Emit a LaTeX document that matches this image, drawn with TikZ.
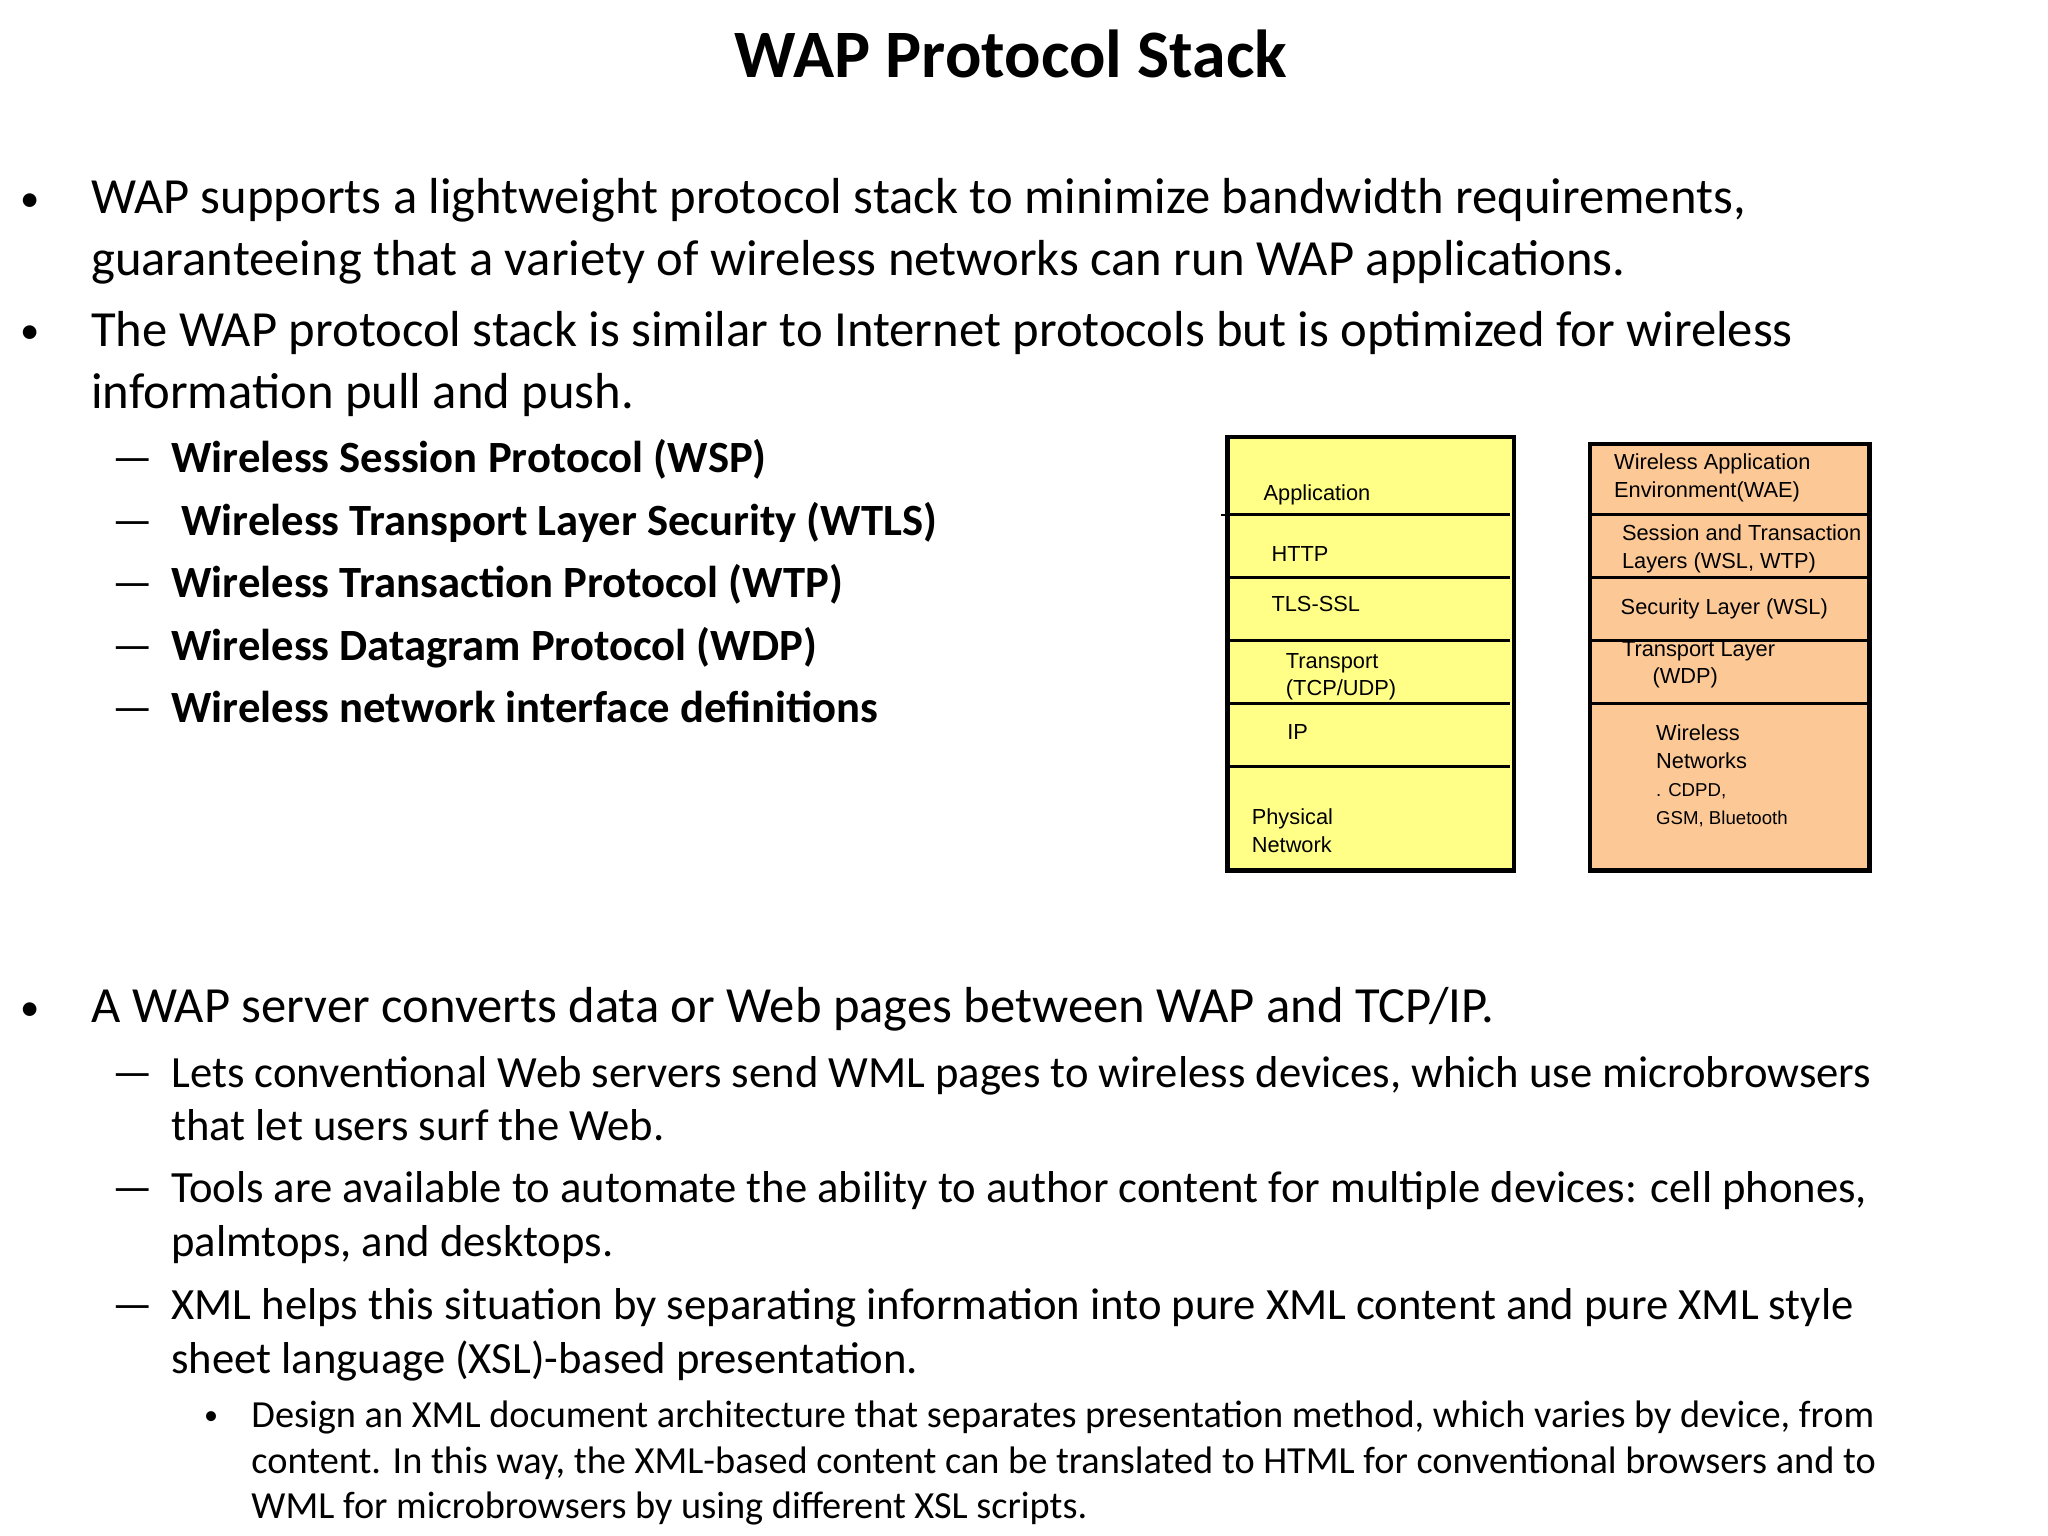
\documentclass[tikz,border=0pt]{standalone}
\usepackage{fontspec}
\setmainfont{Carlito}
\newfontfamily\arial{Liberation Sans}
\definecolor{ylw}{RGB}{255,255,136}
\definecolor{org}{RGB}{252,200,150}
\begin{document}
\begin{tikzpicture}[x=0.013128cm,y=-0.013128cm,
  lone/.style={anchor=base west,inner sep=0pt,font=\fontsize{14.4}{18}\selectfont},
  ltwo/.style={anchor=base west,inner sep=0pt,font=\fontsize{12.7}{16}\selectfont},
  lthree/.style={anchor=base west,inner sep=0pt,font=\fontsize{10.9}{14}\selectfont},
  dtxt/.style={anchor=base west,inner sep=0pt,align=left,font=\arial\fontsize{6.2}{7.9}\selectfont},
  boxl/.style={draw,line width=1.2pt}]
\useasboundingbox (0,0) rectangle (1560,1170);
\node[font=\bfseries\fontsize{19.3}{24}\selectfont,anchor=base] (title) at (770,59) {WAP Protocol Stack};
\node[lone,font=\fontsize{11}{14}\selectfont] (b1) at (15,161) {•};
\node[lone] (t1a) at (69,163) {WAP supports a lightweight protocol stack to minimize bandwidth requirements,};
\node[lone] (t1b) at (69,210) {guaranteeing that a variety of wireless networks can run WAP applications.};
\node[lone,font=\fontsize{11}{14}\selectfont] (b2) at (15,262) {•};
\node[lone] (t2a) at (69,264) {The WAP protocol stack is similar to Internet protocols but is optimized for wireless};
\node[lone] (t2b) at (69,311) {information pull and push.};
\foreach \y/\t [count=\i] in {360/Wireless Session Protocol (WSP),408/{\ Wireless Transport Layer Security (WTLS)},455/Wireless Transaction Protocol (WTP),503/Wireless Datagram Protocol (WDP),550/Wireless network interface definitions}{
  \node[ltwo] (d\i) at (85,\y) {—};
  \node[ltwo,font=\bfseries\fontsize{12.7}{16}\selectfont] (s\i) at (130,\y) {\t};
}
\node[lone,font=\fontsize{11}{14}\selectfont] (b3) at (15,777) {•};
\node[lone] (t3) at (69,779) {A WAP server converts data or Web pages between WAP and TCP/IP.};
\node[ltwo] (e1) at (85,828) {—};
\node[ltwo] (u1a) at (130,828) {Lets conventional Web servers send WML pages to wireless devices, which use microbrowsers};
\node[ltwo] (u1b) at (130,869) {that let users surf the Web.};
\node[ltwo] (e2) at (85,916) {—};
\node[ltwo] (u2a) at (130,916) {Tools are available to automate the ability to author content for multiple devices: cell phones,};
\node[ltwo] (u2b) at (130,957) {palmtops, and desktops.};
\node[ltwo] (e3) at (85,1005) {—};
\node[ltwo] (u3a) at (130,1005) {XML helps this situation by separating information into pure XML content and pure XML style};
\node[ltwo] (u3b) at (130,1046) {sheet language (XSL)-based presentation.};
\node[lthree,font=\fontsize{8}{10}\selectfont] (f1) at (155,1085) {•};
\node[lthree] (v1) at (191,1087) {Design an XML document architecture that separates presentation method, which varies by device, from};
\node[lthree] (v2) at (191,1122) {content. In this way, the XML-based content can be translated to HTML for conventional browsers and to};
\node[lthree] (v3) at (191,1157) {WML for microbrowsers by using different XSL scripts.};
% left stack
\draw[boxl,fill=ylw] (935,333) rectangle (1153,663);
\foreach \y in {392,440,488,536,584} \draw[line width=0.8pt] (935,\y) -- (1150,\y);
\draw[line width=0.6pt] (930,392) -- (935,392);
\node[dtxt] (la) at (962,381) {Application};
\node[dtxt] (lb) at (968,428) {HTTP};
\node[dtxt] (lc) at (968,466) {TLS-SSL};
\node[dtxt] (ld) at (979,530) {Transport\\(TCP/UDP)};
\node[dtxt] (le) at (980,563) {IP};
\node[dtxt] (lf) at (953,649) {Physical\\Network};
% right stack
\draw[boxl,fill=org] (1211,338) rectangle (1424,663);
\foreach \y in {392,440,488,536} \draw[line width=0.8pt] (1211,\y) -- (1424,\y);
\node[dtxt] (ra) at (1229,379) {Wireless Application\\Environment(WAE)};
\node[dtxt] (rb) at (1235,433) {Session and Transaction\\Layers (WSL, WTP)};
\node[dtxt] (rc) at (1234,468) {Security Layer (WSL)};
\node[dtxt] (rd) at (1235,521) {Transport Layer\\\hspace*{1.4em}(WDP)};
\node[dtxt] (re) at (1261,585) {Wireless\\Networks};
\node[dtxt,font=\arial\fontsize{5.3}{7.9}\selectfont] (rf) at (1261,628) {. CDPD,\\GSM, Bluetooth};
\end{tikzpicture}
\end{document}
